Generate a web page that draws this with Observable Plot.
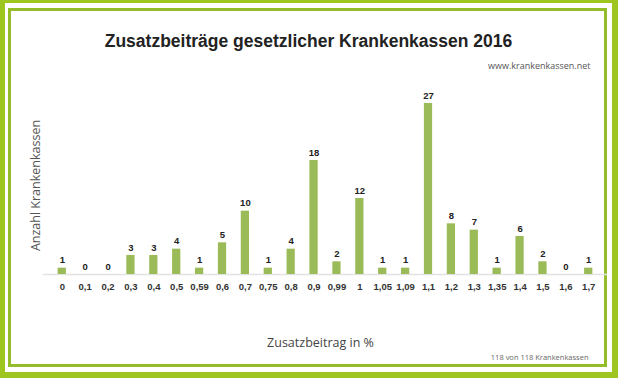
<!DOCTYPE html>
<html>
<head>
<meta charset="utf-8">
<script src="https://cdn.jsdelivr.net/npm/d3@7"></script>
<script src="https://cdn.jsdelivr.net/npm/@observablehq/plot@0.6"></script>
<style>
  html, body { margin: 0; padding: 0; background: #fff; }
  #wrap { position: relative; width: 618px; height: 378px; overflow: hidden; background: #fff; }
  .outer { position: absolute; left: 0; top: 0; width: 618px; height: 378px; box-sizing: border-box;
           border-style: solid; border-color: #9fc520; border-width: 3px 6px 6px 5px; }
  .inner { position: absolute; left: 8px; top: 8px; width: 599px; height: 359px; box-sizing: border-box;
           border: 3px solid #95bd2a; }
  #chart { position: absolute; left: 0; top: 0; }
  #chart svg { background: transparent; }
</style>
</head>
<body>
<div id="wrap">
  <div class="outer"></div>
  <div class="inner"></div>
  <div id="chart"></div>
</div>
<script>
const categories = ["0","0,1","0,2","0,3","0,4","0,5","0,59","0,6","0,7","0,75","0,8","0,9","0,99","1","1,05","1,09","1,1","1,2","1,3","1,35","1,4","1,5","1,6","1,7"];
const counts = [1,0,0,3,3,4,1,5,10,1,4,18,2,12,1,1,27,8,7,1,6,2,0,1];
const titleText = "Zusatzbeiträge gesetzlicher Krankenkassen 2016";
const sourceText = "www.krankenkassen.net";
const yLabel = "Anzahl Krankenkassen";
const xLabel = "Zusatzbeitrag in %";
const captionText = "118 von 118 Krankenkassen";

const data = categories.map((c, i) => ({cat: c, n: counts[i]}));

const W = 618, H = 378;
const mL = 43, mT = 84, mR = 11, mB = 104;
// anchor helper: position text at absolute (x, y) from the frame's top-left corner
const at = (x, y) => ({frameAnchor: "top-left", dx: x - mL, dy: y - mT});

const chart = Plot.plot({
  width: W,
  height: H,
  marginLeft: mL,
  marginRight: mR,
  marginTop: mT,
  marginBottom: mB,
  style: {fontFamily: "Liberation Sans, Arial, sans-serif", background: "transparent", overflow: "visible"},
  x: {domain: categories, padding: 0.64, round: false, label: null},
  y: {domain: [0, 30], axis: null},
  marks: [
    Plot.ruleY([0], {stroke: "#e2e2e2", strokeWidth: 1.5}),
    Plot.barY(data, {x: "cat", y: "n", fill: "#9bbb59"}),
    Plot.text(data, {x: "cat", y: "n", text: d => String(d.n), dy: -8, fontWeight: "bold", fontSize: 9.5, fill: "#222"}),
    Plot.axisX({tickSize: 0, tickPadding: 9, fontSize: 9.5, fontWeight: "bold", fill: "#333", label: null}),
    Plot.text([titleText], {...at(308, 34), fontSize: 17.5, fontWeight: "bold", fill: "#222", textAnchor: "middle"}),
    Plot.text([sourceText], {...at(590, 62), fontSize: 9, fill: "#555", textAnchor: "end", fontFamily: "Open Sans"}),
    Plot.text([yLabel], {...at(31, 185), fontSize: 12.5, fill: "#555", rotate: -90, textAnchor: "middle", fontFamily: "Open Sans"}),
    Plot.text([xLabel], {...at(320, 338), fontSize: 12.5, fill: "#444", textAnchor: "middle", fontFamily: "Open Sans"}),
    Plot.text([captionText], {...at(588, 354), fontSize: 7.5, fill: "#666", textAnchor: "end", fontFamily: "Open Sans"})
  ]
});
document.getElementById("chart").appendChild(chart);
</script>
</body>
</html>
